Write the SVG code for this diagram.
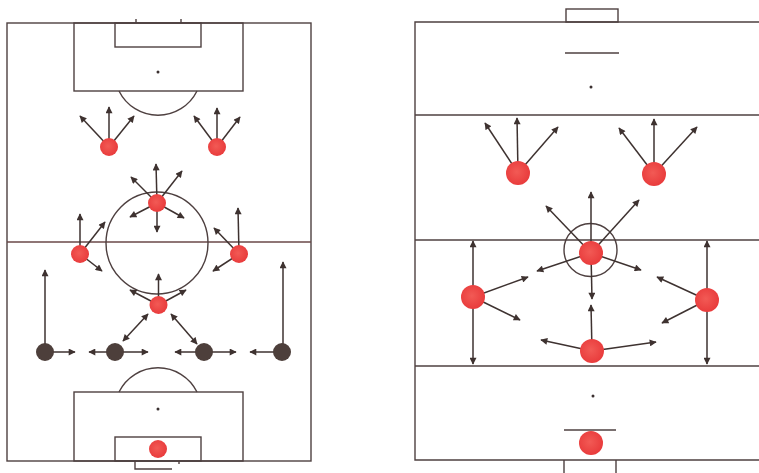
<svg xmlns="http://www.w3.org/2000/svg" width="759" height="473" viewBox="0 0 759 473">
<defs>
<marker id="ah" viewBox="0 0 10 10" refX="9" refY="5" markerWidth="8" markerHeight="7" markerUnits="userSpaceOnUse" orient="auto-start-reverse">
<path d="M0,0 L10,5 L0,10 z" fill="#3e3230"/>
</marker>
<radialGradient id="rg" cx="0.45" cy="0.45" r="0.6">
<stop offset="0" stop-color="#f25a55"/>
<stop offset="1" stop-color="#e8393a"/>
</radialGradient>
</defs>
<style>
.pl{fill:none;stroke:#4e4040;stroke-width:1.4}
.ar{stroke:#3e3230;stroke-width:1.5;fill:none;marker-end:url(#ah)}
.dar{stroke:#3e3230;stroke-width:1.5;fill:none;marker-end:url(#ah);marker-start:url(#ah)}
.red{fill:url(#rg)}
.dk{fill:#4d3f3b}
.dot{fill:#3a3030}
</style>
<rect width="759" height="473" fill="#ffffff"/>
<g id="pitch-left">
<rect class="pl" x="7" y="23" width="304" height="438"/>
<rect class="pl" x="74" y="23" width="169" height="68"/>
<rect class="pl" x="115" y="23" width="86" height="24"/>
<line class="pl" x1="136" y1="19" x2="136" y2="23"/>
<line class="pl" x1="181" y1="19" x2="181" y2="23"/>
<circle class="dot" cx="158" cy="72" r="1.5"/>
<path class="pl" d="M119,91 A43.5,43.5 0 0 0 197,91"/>
<line class="pl" x1="7" y1="242" x2="311" y2="242" style="stroke:#6a4848"/>
<circle class="pl" cx="157" cy="243" r="51"/>
<rect class="pl" x="74" y="392" width="169" height="69"/>
<rect class="pl" x="115" y="437" width="86" height="24"/>
<circle class="dot" cx="158" cy="409" r="1.5"/>
<path class="pl" d="M119,392 A43.5,43.5 0 0 1 197,392"/>
<path class="pl" d="M135,461 L135,469 L172,469"/>
<line class="pl" x1="179" y1="461" x2="179" y2="464"/>
</g>
<g id="pitch-right">
<path class="pl" d="M759,22 L415,22 L415,460 L759,460"/>
<rect class="pl" x="566" y="9" width="52" height="13"/>
<line class="pl" x1="565" y1="53" x2="619" y2="53"/>
<circle class="dot" cx="591" cy="87" r="1.5"/>
<line class="pl" x1="415" y1="115" x2="759" y2="115"/>
<line class="pl" x1="415" y1="240" x2="759" y2="240"/>
<circle class="pl" cx="590.5" cy="250" r="26.5"/>
<line class="pl" x1="415" y1="366" x2="759" y2="366"/>
<circle class="dot" cx="593" cy="396" r="1.5"/>
<line class="pl" x1="564" y1="430" x2="616" y2="430"/>
<path class="pl" d="M564,473 L564,460 M616,460 L616,473"/>
</g>
<g id="connectors">
<!-- left pitch -->
<line class="ar" x1="109" y1="147" x2="80" y2="116"/>
<line class="ar" x1="109" y1="147" x2="109" y2="107"/>
<line class="ar" x1="109" y1="147" x2="134" y2="116"/>
<line class="ar" x1="217" y1="147" x2="194" y2="116"/>
<line class="ar" x1="217" y1="147" x2="217" y2="108"/>
<line class="ar" x1="217" y1="147" x2="240" y2="117"/>
<line class="ar" x1="157" y1="203" x2="131" y2="177"/>
<line class="ar" x1="157" y1="203" x2="156" y2="164"/>
<line class="ar" x1="157" y1="203" x2="182" y2="171"/>
<line class="ar" x1="157" y1="203" x2="130" y2="217"/>
<line class="ar" x1="157" y1="203" x2="184" y2="218"/>
<line class="ar" x1="157" y1="203" x2="157" y2="232"/>
<line class="ar" x1="80" y1="254" x2="80" y2="214"/>
<line class="ar" x1="80" y1="254" x2="105" y2="222"/>
<line class="ar" x1="80" y1="254" x2="102" y2="271"/>
<line class="ar" x1="239" y1="254" x2="238" y2="208"/>
<line class="ar" x1="239" y1="254" x2="214" y2="228"/>
<line class="ar" x1="239" y1="254" x2="213" y2="271"/>
<line class="ar" x1="158.5" y1="305" x2="158.5" y2="274"/>
<line class="ar" x1="158.5" y1="305" x2="130" y2="290"/>
<line class="ar" x1="158.5" y1="305" x2="186" y2="290"/>
<line class="dar" x1="148" y1="314" x2="123" y2="341"/>
<line class="dar" x1="171" y1="314" x2="197" y2="344"/>
<line class="ar" x1="45" y1="352" x2="45" y2="270"/>
<line class="ar" x1="283" y1="352" x2="283" y2="262"/>
<line class="ar" x1="45" y1="352" x2="75" y2="352"/>
<line class="ar" x1="115" y1="352" x2="89" y2="352"/>
<line class="ar" x1="115" y1="352" x2="148" y2="352"/>
<line class="ar" x1="204" y1="352" x2="175" y2="352"/>
<line class="ar" x1="204" y1="352" x2="236" y2="352"/>
<line class="ar" x1="282" y1="352" x2="250" y2="352"/>
<!-- right pitch -->
<line class="ar" x1="518" y1="173" x2="485" y2="123"/>
<line class="ar" x1="518" y1="173" x2="517" y2="118"/>
<line class="ar" x1="518" y1="173" x2="558" y2="127"/>
<line class="ar" x1="654" y1="174" x2="619" y2="128"/>
<line class="ar" x1="654" y1="174" x2="654" y2="119"/>
<line class="ar" x1="654" y1="174" x2="697" y2="127"/>
<line class="ar" x1="591" y1="253" x2="591" y2="192"/>
<line class="ar" x1="591" y1="253" x2="546" y2="206"/>
<line class="ar" x1="591" y1="253" x2="639" y2="200"/>
<line class="ar" x1="591" y1="253" x2="537" y2="271"/>
<line class="ar" x1="591" y1="253" x2="641" y2="270"/>
<line class="ar" x1="591" y1="253" x2="592" y2="299"/>
<line class="ar" x1="473" y1="297" x2="528" y2="277"/>
<line class="ar" x1="473" y1="297" x2="520" y2="320"/>
<line class="dar" x1="473" y1="241" x2="473" y2="364"/>
<line class="ar" x1="707" y1="300" x2="657" y2="277"/>
<line class="ar" x1="707" y1="300" x2="662" y2="323"/>
<line class="dar" x1="707" y1="241" x2="707" y2="364"/>
<line class="ar" x1="592" y1="351" x2="591" y2="305"/>
<line class="ar" x1="592" y1="351" x2="541" y2="340"/>
<line class="ar" x1="592" y1="351" x2="656" y2="342"/>
</g>
<g id="L-fw1"><circle class="red" cx="109" cy="147" r="9"/></g>
<g id="L-fw2"><circle class="red" cx="217" cy="147" r="9"/></g>
<g id="L-am"><circle class="red" cx="157" cy="203" r="9"/></g>
<g id="L-lm"><circle class="red" cx="80" cy="254" r="9"/></g>
<g id="L-rm"><circle class="red" cx="239" cy="254" r="9"/></g>
<g id="L-dm"><circle class="red" cx="158.5" cy="305" r="9"/></g>
<g id="L-d1"><circle class="dk" cx="45" cy="352" r="9"/></g>
<g id="L-d2"><circle class="dk" cx="115" cy="352" r="9"/></g>
<g id="L-d3"><circle class="dk" cx="204" cy="352" r="9"/></g>
<g id="L-d4"><circle class="dk" cx="282" cy="352" r="9"/></g>
<g id="L-gk"><circle class="red" cx="158" cy="449" r="9"/></g>
<g id="R-fw1"><circle class="red" cx="518" cy="173" r="12"/></g>
<g id="R-fw2"><circle class="red" cx="654" cy="174" r="12"/></g>
<g id="R-cm"><circle class="red" cx="591" cy="253" r="12"/></g>
<g id="R-lm"><circle class="red" cx="473" cy="297" r="12"/></g>
<g id="R-rm"><circle class="red" cx="707" cy="300" r="12"/></g>
<g id="R-dm"><circle class="red" cx="592" cy="351" r="12"/></g>
<g id="R-gk"><circle class="red" cx="591" cy="443" r="12"/></g>
</svg>
